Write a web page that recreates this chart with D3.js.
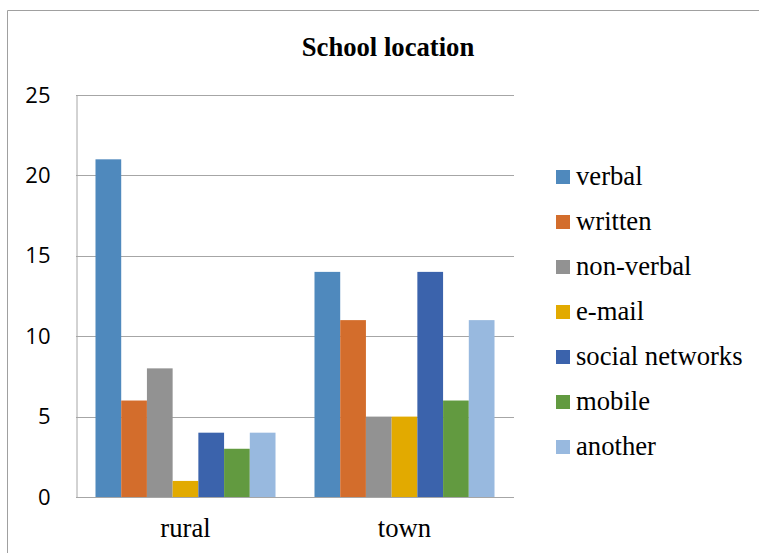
<!DOCTYPE html>
<html><head><meta charset="utf-8">
<script src="https://cdn.jsdelivr.net/npm/d3@7"></script>
<style>body{margin:0;background:#fff}svg{display:block}</style>
</head><body>
<svg id="c" width="759" height="553"></svg>
<script>
const categories = ["rural", "town"];
const series = ["verbal", "written", "non-verbal", "e-mail", "social networks", "mobile", "another"];
const colors = ["#4F89BD", "#D36D2C", "#929292", "#E2AA00", "#3B63AC", "#629A40", "#98B9DF"];
const rural = [21, 6, 8, 1, 4, 3, 4];
const town = [14, 11, 5, 5, 14, 6, 11];
const yTicks = [0, 5, 10, 15, 20, 25];

(function () {
const SERIF = '"Liberation Serif", "Times New Roman", Tinos, serif';
const values = [rural, town];
const svg = d3.select("#c");
const pLeft = 76, pRight = 514, pTop = 95, pBottom = 497;

// outer border
svg.append("path").attr("d", "M7.5,553 L7.5,10.5 L759,10.5")
  .attr("fill", "none").attr("stroke", "#a0a0a0").attr("stroke-width", 1);

svg.append("text").attr("x", 388).attr("y", 56).attr("text-anchor", "middle")
  .attr("font-family", SERIF).style("font-family", SERIF)
  .attr("font-weight", "bold").attr("font-size", 26.67)
  .text("School location");

const y = d3.scaleLinear().domain([0, 25]).range([pBottom, pTop]);
const x0 = d3.scaleBand().domain(categories).range([pLeft, pRight]).paddingInner(0.178).paddingOuter(0.089);
const x1 = d3.scaleBand().domain(series).range([0, x0.bandwidth()]);

// gridlines
svg.append("g").selectAll("line").data(yTicks).join("line")
  .attr("x1", pLeft).attr("x2", pRight)
  .attr("y1", d => Math.round(y(d)) + 0.5).attr("y2", d => Math.round(y(d)) + 0.5)
  .attr("stroke", "#a6a6a6").attr("stroke-width", 1);

// y axis
const yAxis = d3.axisLeft(y).tickValues(yTicks).tickSize(0).tickPadding(26);
const ga = svg.append("g").attr("transform", `translate(${pLeft + 0.5},0)`).call(yAxis);
ga.select(".domain").attr("stroke", "#a6a6a6");
ga.attr("font-family", '"Open Sans"');
ga.selectAll("text").style("font-family", '"Open Sans"').attr("font-size", 22).attr("fill", "#000");

// bars
const groups = svg.append("g").selectAll("g").data(categories).join("g")
  .attr("transform", d => `translate(${x0(d)},0)`);
groups.selectAll("rect").data((c, i) => series.map((s, j) => ({s, v: values[i][j], j})))
  .join("rect")
  .attr("x", d => x1(d.s)).attr("width", x1.bandwidth())
  .attr("y", d => y(d.v)).attr("height", d => y(0) - y(d.v))
  .attr("fill", d => colors[d.j]);

// x labels
const xAxis = d3.axisBottom(x0).tickSize(0).tickPadding(21);
const gx = svg.append("g").attr("transform", `translate(0,${pBottom})`).call(xAxis);
gx.select(".domain").remove();
gx.attr("font-family", SERIF);
gx.selectAll("text").style("font-family", SERIF).attr("font-size", 26.67).attr("fill", "#000");

// legend
const lg = svg.append("g").attr("font-family", SERIF).selectAll("g").data(series).join("g")
  .attr("transform", (d, i) => `translate(556,${177 + i * 45})`);
lg.append("rect").attr("x", 0).attr("y", -7).attr("width", 14).attr("height", 14)
  .attr("fill", (d, i) => colors[i]);
lg.append("text").attr("x", 20).attr("y", 8)
  .style("font-family", SERIF).attr("font-size", 26.67).text(d => d);
})();
</script>
</body></html>
